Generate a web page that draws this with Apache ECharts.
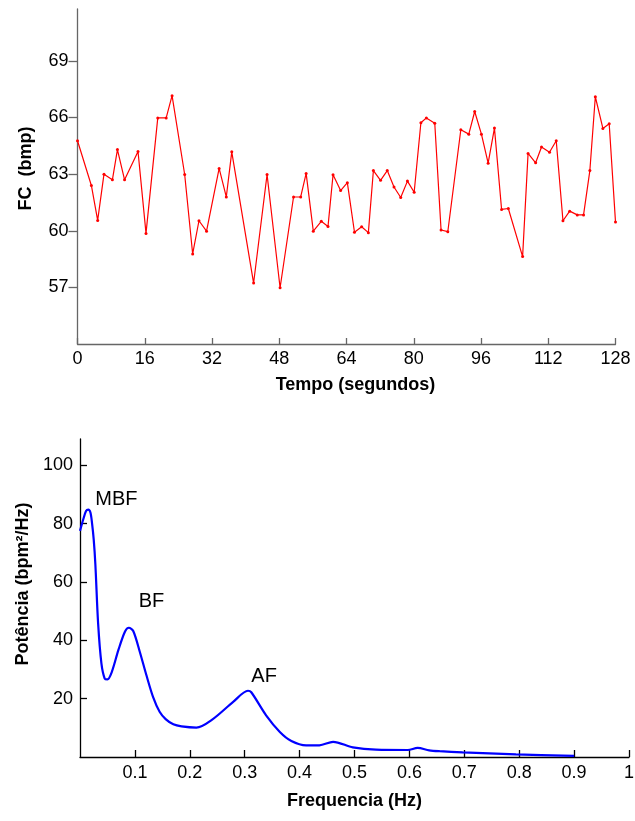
<!DOCTYPE html>
<html>
<head>
<meta charset="utf-8">
<script src="https://cdn.jsdelivr.net/npm/echarts@6/dist/echarts.min.js"></script>
<style>
html,body{margin:0;padding:0;background:#fff;}
#chart{width:635px;height:821px;}
</style>
</head>
<body>
<div id="chart"></div>
<script>
// ---- Top chart: heart rate (FC) over time ----
const tempo = [0, 3.3, 4.8, 6.3, 8.3, 9.5, 11.2, 14.4, 16.3, 19.1, 21.1, 22.5, 25.5, 27.4, 28.9, 30.7, 33.7, 35.4, 36.7, 41.9, 45.1, 48.2, 51.4, 53.1, 54.4, 56.1, 58.0, 59.6, 60.8, 62.6, 64.2, 65.9, 67.6, 69.2, 70.4, 72.1, 73.7, 75.3, 76.9, 78.5, 80.1, 81.7, 83.0, 85.0, 86.5, 88.1, 91.2, 93.1, 94.5, 96.1, 97.7, 99.2, 100.9, 102.5, 105.9, 107.2, 109.0, 110.4, 112.3, 113.9, 115.5, 117.1, 118.9, 120.4, 121.9, 123.2, 125.0, 126.5, 128.0];
const fc = [64.77, 62.4, 60.55, 63.0, 62.7, 64.3, 62.7, 64.2, 59.86, 65.98, 65.98, 67.16, 62.98, 58.77, 60.53, 59.98, 63.3, 61.79, 64.18, 57.23, 62.98, 56.98, 61.79, 61.79, 63.04, 59.98, 60.5, 60.23, 62.97, 62.13, 62.55, 59.92, 60.21, 59.9, 63.19, 62.67, 63.19, 62.32, 61.76, 62.63, 62.04, 65.72, 65.98, 65.7, 60.04, 59.95, 65.35, 65.12, 66.32, 65.12, 63.58, 65.44, 61.13, 61.18, 58.63, 64.1, 63.6, 64.44, 64.16, 64.77, 60.53, 61.04, 60.84, 60.84, 63.19, 67.1, 65.42, 65.67, 60.47];

// ---- Bottom chart: power spectrum ----
const freq = [0, 0.006, 0.011, 0.015, 0.019, 0.022, 0.025, 0.028, 0.033, 0.039, 0.045, 0.050, 0.058, 0.070, 0.082, 0.089, 0.097, 0.109, 0.121, 0.133, 0.145, 0.156, 0.170, 0.185, 0.212, 0.242, 0.279, 0.306, 0.312, 0.339, 0.364, 0.385, 0.412, 0.436, 0.461, 0.497, 0.539, 0.597, 0.615, 0.636, 0.655, 0.697, 0.794, 0.9];
const potencia = [77.5, 81.5, 84.3, 84.8, 83.8, 80.0, 74.5, 66.0, 45.8, 32.1, 26.9, 26.6, 29.2, 36.7, 43.0, 44.3, 43.2, 36.0, 28.0, 20.6, 15.5, 13.0, 11.2, 10.5, 10.1, 13.0, 18.9, 22.7, 22.2, 14.3, 8.6, 5.5, 4.0, 4.0, 5.2, 3.3, 2.5, 2.4, 3.1, 2.3, 2.0, 1.6, 0.9, 0.4];

// band annotations (label, frequency, power)
const bandLabels = ['MBF', 'BF', 'AF'];
const bandFreq = [0.028, 0.107, 0.312];
const bandPot = [88.2, 53.2, 27.7];

const FONT = "'Liberation Sans', Arial, Helvetica, sans-serif";

const chart = echarts.init(document.getElementById('chart'), null, {renderer: 'canvas'});

const topLine = {color: '#666', width: 1.3};
const botLine = {color: '#000', width: 1.3};

chart.setOption({
  animation: false,
  backgroundColor: '#fff',
  textStyle: {fontFamily: FONT},
  grid: [
    {left: 77.5, top: 9, width: 538, height: 335, outerBoundsMode: 'none'},
    {left: 80, top: 439, width: 549, height: 318, outerBoundsMode: 'none'}
  ],
  xAxis: [
    {
      type: 'value', gridIndex: 0, min: 0, max: 128, interval: 16,
      name: 'Tempo (segundos)', nameLocation: 'middle', nameGap: 32,
      nameTextStyle: {fontFamily: FONT, fontSize: 18, fontWeight: 'bold', color: '#000', padding: [0, 0, 0, 18]},
      axisLine: {show: true, onZero: false, lineStyle: topLine},
      axisTick: {show: true, inside: true, length: 6, lineStyle: topLine},
      axisLabel: {fontFamily: FONT, fontSize: 18, color: '#000', margin: 6},
      splitLine: {show: false}
    },
    {
      type: 'value', gridIndex: 1, min: 0, max: 1, interval: 0.1,
      name: 'Frequencia (Hz)', nameLocation: 'middle', nameGap: 35,
      nameTextStyle: {fontFamily: FONT, fontSize: 18, fontWeight: 'bold', color: '#000'},
      axisLine: {show: true, onZero: false, lineStyle: botLine},
      axisTick: {show: true, inside: true, length: 7, lineStyle: botLine},
      axisLabel: {fontFamily: FONT, fontSize: 18, color: '#000', margin: 7, showMinLabel: false},
      splitLine: {show: false}
    }
  ],
  yAxis: [
    {
      type: 'value', gridIndex: 0, min: 54, max: 71.75, interval: 3,
      name: 'FC  (bmp)', nameLocation: 'middle', nameGap: 42,
      nameTextStyle: {fontFamily: FONT, fontSize: 18, fontWeight: 'bold', color: '#000', padding: [0, 0, 0, 16]},
      axisLine: {show: true, onZero: false, lineStyle: topLine},
      axisTick: {show: true, inside: false, length: 9, lineStyle: topLine},
      axisLabel: {fontFamily: FONT, fontSize: 18, color: '#000', margin: 9, showMinLabel: false, showMaxLabel: false},
      splitLine: {show: false}
    },
    {
      type: 'value', gridIndex: 1, min: 0, max: 109, interval: 20,
      name: 'Potência (bpm²/Hz)', nameLocation: 'middle', nameGap: 41,
      nameTextStyle: {fontFamily: FONT, fontSize: 18, fontWeight: 'bold', color: '#000', padding: [0, 0, 0, 28]},
      axisLine: {show: true, onZero: false, lineStyle: botLine},
      axisTick: {show: true, inside: true, length: 7, lineStyle: botLine},
      axisLabel: {fontFamily: FONT, fontSize: 18, color: '#000', margin: 7, showMinLabel: false, showMaxLabel: false},
      splitLine: {show: false}
    }
  ],
  series: [
    {
      type: 'line', xAxisIndex: 0, yAxisIndex: 0,
      data: tempo.map((t, i) => [t, fc[i]]),
      lineStyle: {color: '#ff0000', width: 1.2},
      itemStyle: {color: '#ff0000'},
      symbol: 'circle', symbolSize: 3, showSymbol: true,
      silent: true
    },
    {
      type: 'line', xAxisIndex: 1, yAxisIndex: 1,
      data: freq.map((f, i) => [f, potencia[i]]),
      lineStyle: {color: '#0000ff', width: 2.2},
      itemStyle: {color: '#0000ff'},
      showSymbol: false, smooth: 0.3,
      silent: true
    },
    {
      type: 'scatter', xAxisIndex: 1, yAxisIndex: 1,
      data: bandLabels.map((l, i) => ({value: [bandFreq[i], bandPot[i]], name: l})),
      symbolSize: 0,
      itemStyle: {opacity: 1, color: '#000'},
      label: {
        show: true, position: [0, 0], align: 'left', verticalAlign: 'middle',
        formatter: p => p.name,
        fontFamily: FONT, fontSize: 20, color: '#000', opacity: 1
      },
      silent: true
    }
  ]
});
</script>
</body>
</html>
